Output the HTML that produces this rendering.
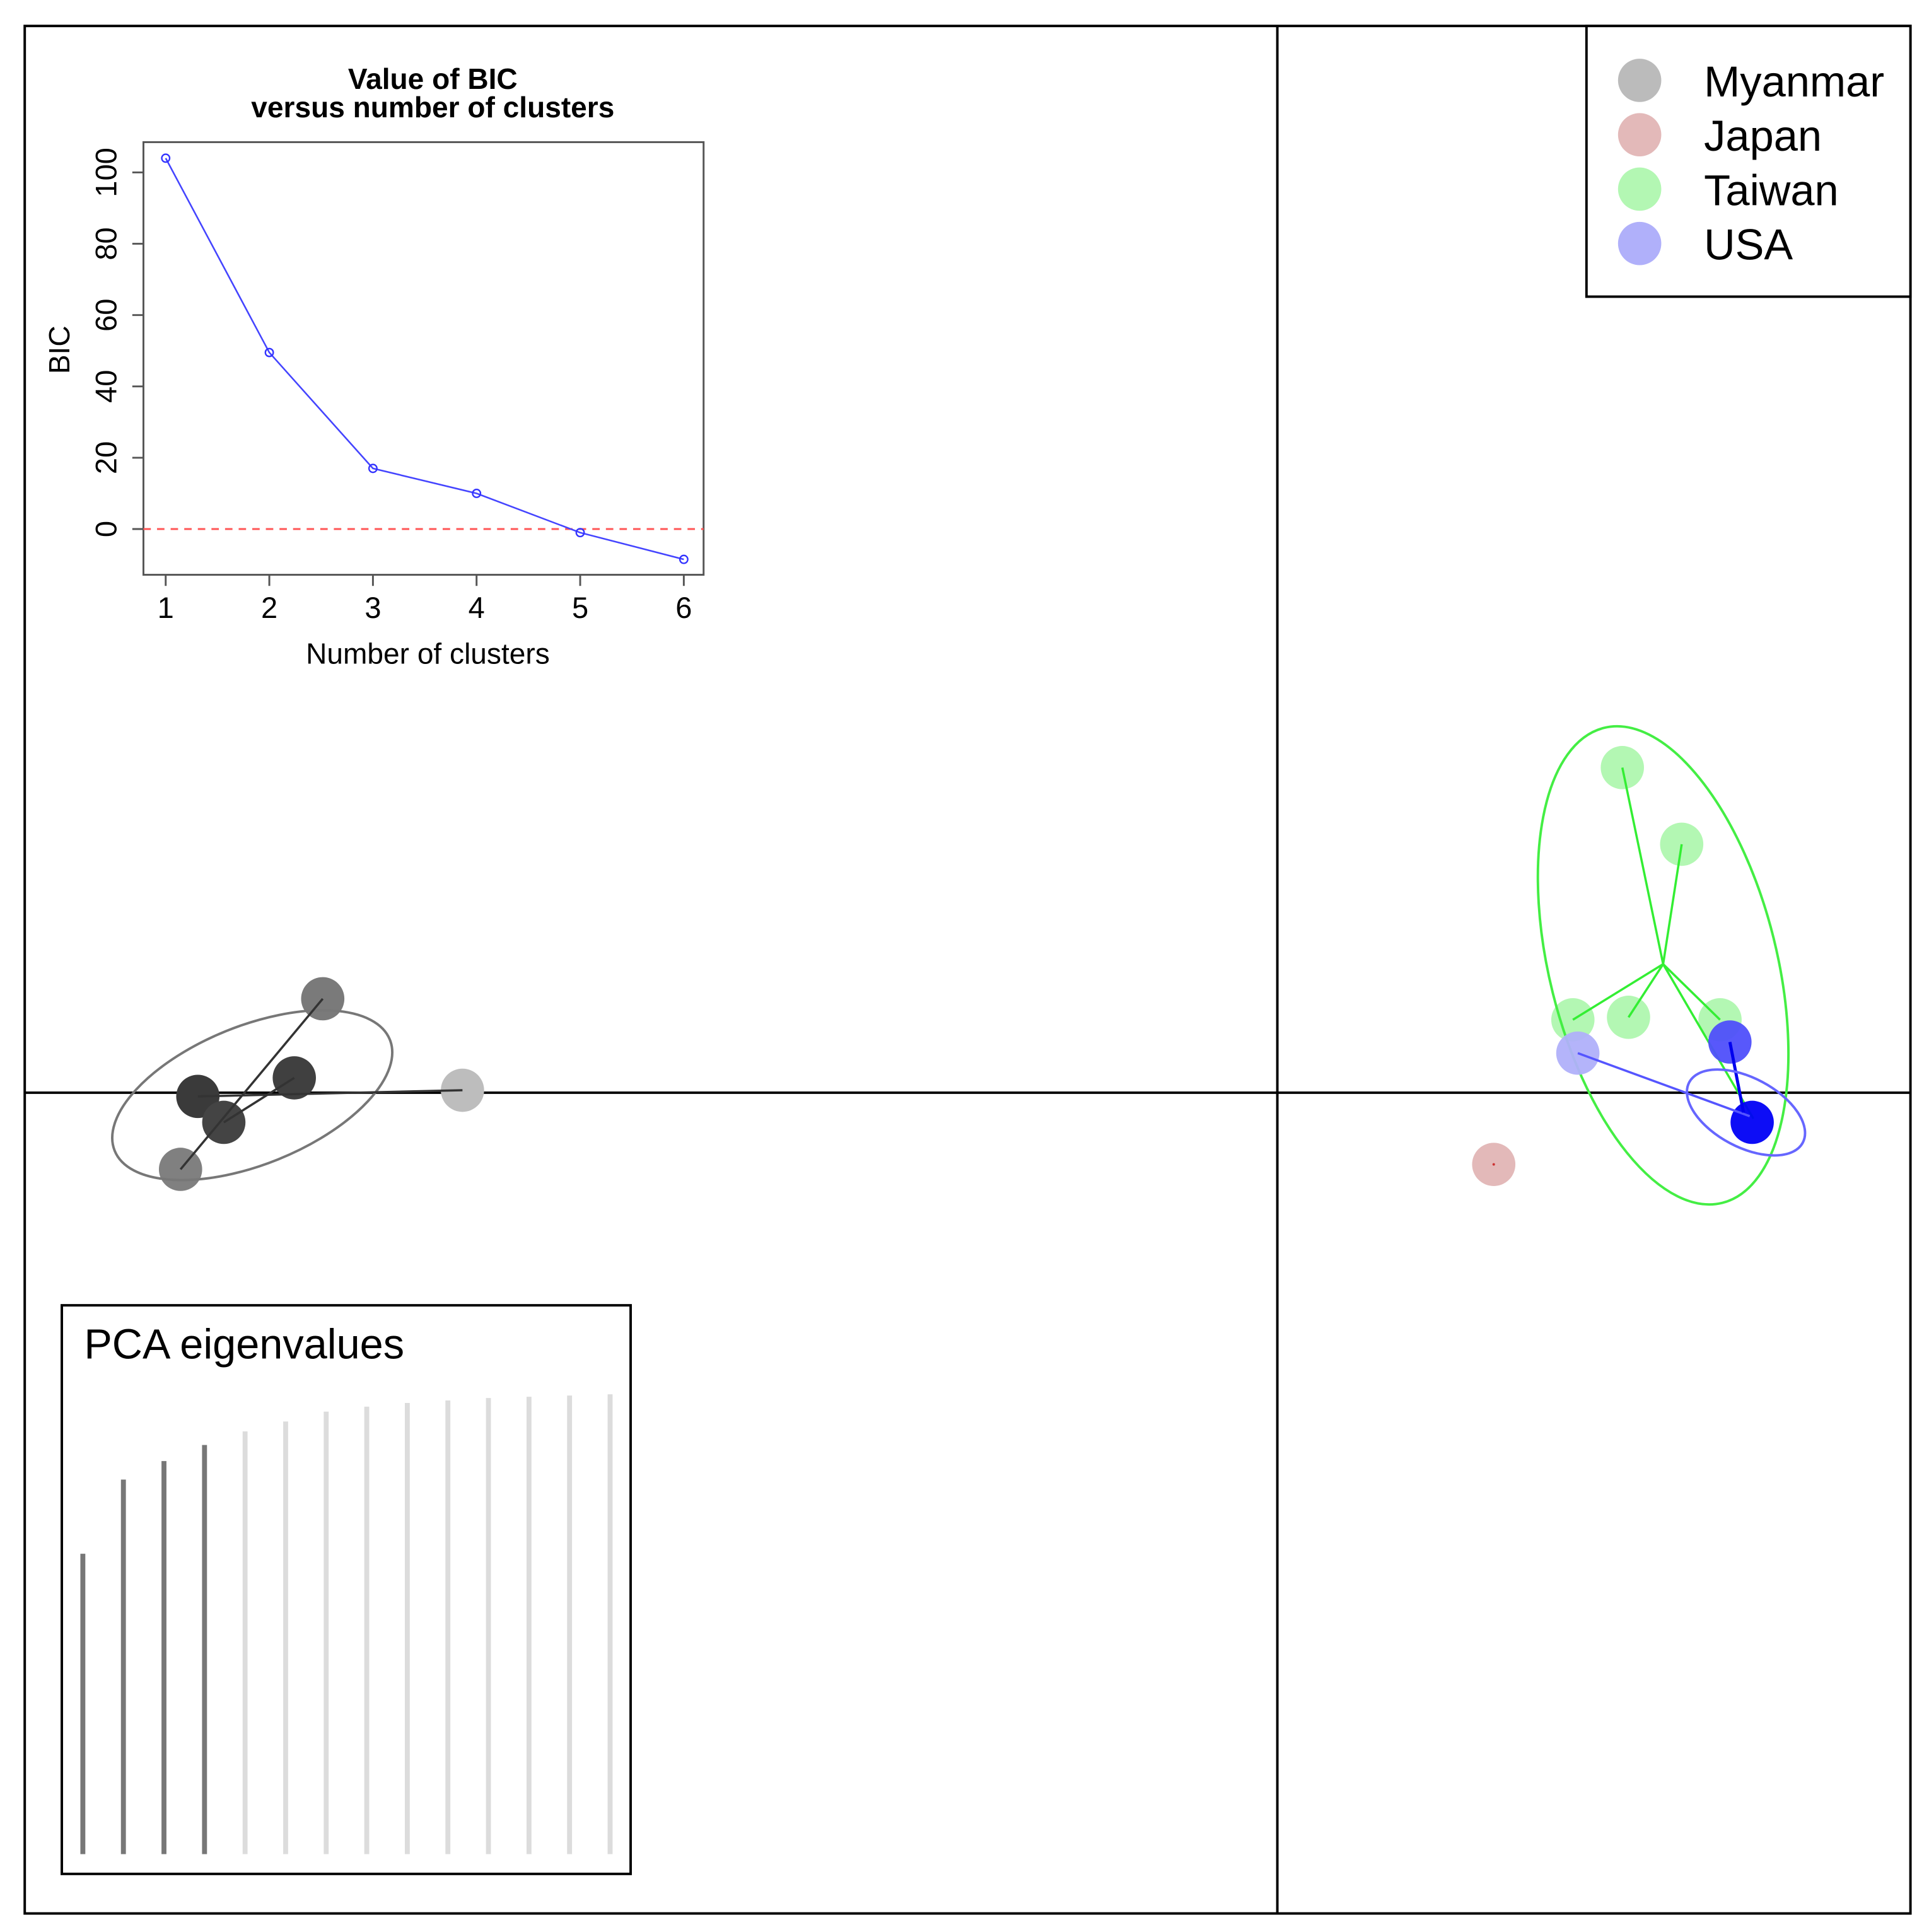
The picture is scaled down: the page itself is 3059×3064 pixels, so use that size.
<!DOCTYPE html>
<html><head><meta charset="utf-8"><style>
html,body{margin:0;padding:0;background:#fff}
svg{display:block;font-family:"Liberation Sans",Arial,sans-serif}
</style></head><body>
<svg id="s" width="3059" height="3064" viewBox="0 0 1560 1563" preserveAspectRatio="none" xmlns="http://www.w3.org/2000/svg">
<rect x="20" y="21" width="1525" height="1527" fill="none" stroke="#000" stroke-width="2"/>
<line x1="1033" y1="21" x2="1033" y2="1548" stroke="#000" stroke-width="2"/>
<line x1="20" y1="884" x2="1545" y2="884" stroke="#000" stroke-width="2"/>
<g id="scatter"></g>
<g id="legend">
<rect x="1283" y="21" width="262" height="219" fill="#fff" stroke="#000" stroke-width="2"/>
</g>
<g id="bic">
<text x="350" y="72" text-anchor="middle" font-size="23.5" font-weight="bold">Value of BIC</text>
<text x="350" y="95" text-anchor="middle" font-size="23.5" font-weight="bold">versus number of clusters</text>
<rect x="116" y="115" width="453" height="350" fill="none" stroke="#555" stroke-width="1.5"/>
<text x="346" y="537" text-anchor="middle" font-size="23.5">Number of clusters</text>
<text transform="translate(56,283) rotate(-90)" text-anchor="middle" font-size="23.5">BIC</text>
</g>
<g id="eig">
<rect x="50" y="1056" width="460" height="460" fill="#fff" stroke="#000" stroke-width="2"/>
<text x="68" y="1099" font-size="34">PCA eigenvalues</text>
</g>
</svg>
<script>
const NS="http://www.w3.org/2000/svg";
// BIC data
const bicK=[1,2,3,4,5,6];
const bicVals=[104,49.5,17,10,-1,-8.5];
const bicYTicks=[0,20,40,60,80,100];
// eigenvalues (relative heights)
const eigVals=[243,303,318,331,342,350,358,362,365,367,369,370,371,372];
const eigRetained=4;
// groups
const groupNames=["Myanmar","Japan","Taiwan","USA"];
const groupColors=["#bbbbbb","#e3b9b9","#b3f7b3","#b0b0fa"];
const myanmarX=[261,160,181,238,146,374];
const myanmarY=[808,887,908,872,946,882];
const myanmarFill=["#7a7a7a","#3a3a3a","#444444","#404040","#808080","#bdbdbd"];
const taiwanX=[1312,1360,1272,1317,1391];
const taiwanY=[621,683,825,823,825];
const usaX=[1276,1399,1417];
const usaY=[852,843,908];
const usaFill=["#b0b0fa","#4f4ffb","#0000f5"];
const japanX=[1208];
const japanY=[942];

function mk(tag,attrs,parent){const e=document.createElementNS(NS,tag);for(const k in attrs)e.setAttribute(k,attrs[k]);parent.appendChild(e);return e;}

// BIC inset
const bic=document.getElementById('bic');
const bx=k=>134+(k-1)*(553-134)/5;
const by=v=>428-v*(428-139.5)/100;
mk('line',{x1:116,y1:by(0),x2:569,y2:by(0),stroke:"#ff5555","stroke-width":1.5,"stroke-dasharray":"6,5"},bic);
bicK.forEach(k=>{
  const t=mk('line',{x1:bx(k),y1:465,x2:bx(k),y2:474,stroke:"#555","stroke-width":1.5},bic);
  
  
  const l=mk('text',{x:bx(k),y:500,"text-anchor":"middle","font-size":24},bic);l.textContent=k;
  
  
});
bicYTicks.forEach(v=>{
  mk('line',{x1:107,y1:by(v),x2:116,y2:by(v),stroke:"#555","stroke-width":1.5},bic);
  const l=mk('text',{transform:`translate(94,${by(v)}) rotate(-90)`,"text-anchor":"middle","font-size":24},bic);l.textContent=v;
  
  
});
const bl=mk('polyline',{points:bicK.map((k,i)=>bx(k)+","+by(bicVals[i])).join(" "),fill:"none",stroke:"#4444ff","stroke-width":1.3},bic);


bicK.forEach((k,i)=>{
  const c=mk('circle',{cx:bx(k),cy:by(bicVals[i]),r:3.2,fill:"none",stroke:"#3333ff","stroke-width":1.2},bic);
  
  
});

// eigenvalues
const eig=document.getElementById('eig');
const ey=v=>1500-v;
eigVals.forEach((v,i)=>{
  const b=mk('line',{x1:67+i*32.8,y1:ey(v),x2:67+i*32.8,y2:1500,stroke:i<eigRetained?"#777":"#dcdcdc","stroke-width":4},eig);
  
  
});

// scatter
const sc=document.getElementById('scatter');
function ell(cx,cy,rx,ry,rot,col,name){const e=mk('ellipse',{cx,cy,rx,ry,transform:`rotate(${rot} ${cx} ${cy})`,fill:"none",stroke:col,"stroke-width":2},sc);
  
  }
function ln(x1,y1,x2,y2,col,w){mk('line',{x1,y1,x2,y2,stroke:col,"stroke-width":w||1.8},sc);}
function pt(x,y,fill,op,name){const c=mk('circle',{cx:x,cy:y,r:17.5,fill,"fill-opacity":op},sc);
  
  }

// Myanmar
myanmarX.forEach((x,i)=>pt(x,myanmarY[i],myanmarFill[i],1,'myanmar-point'));
ell(204,886,120,56,-22,"#777","myanmar-ellipse");
ln(myanmarX[4],myanmarY[4],myanmarX[0],myanmarY[0],"#333");
ln(myanmarX[1],myanmarY[1],myanmarX[5],myanmarY[5],"#333");
ln(myanmarX[2],myanmarY[2],myanmarX[3],myanmarY[3],"#333");
// Japan
japanX.forEach((x,i)=>{pt(x,japanY[i],groupColors[1],1,'japan-point');mk('circle',{cx:x,cy:japanY[i],r:1,fill:"#c33"},sc);});
// Taiwan
taiwanX.forEach((x,i)=>pt(x,taiwanY[i],groupColors[2],1,'taiwan-point'));
const tcx=1345,tcy=780;
taiwanX.forEach((x,i)=>ln(tcx,tcy,x,taiwanY[i],"#33ee33"));
ln(tcx,tcy,1418,905,"#33ee33");
ell(1345,781,92,198,-14,"#44ee44","taiwan-ellipse");
// USA
usaX.forEach((x,i)=>pt(x,usaY[i],usaFill[i],0.95,'usa-point'));
ln(usaX[0],usaY[0],1415,903,"#5555ff");
ln(usaX[1],usaY[1],1410,900,"#0000ee",2.5);
ell(1412,900,52,28,28,"#6666ff","usa-ellipse");

// legend
const lg=document.getElementById('legend');
groupNames.forEach((n,i)=>{
  const c=mk('circle',{cx:1326,cy:65+i*44,r:17.5,fill:groupColors[i]},lg);
  
  
  const t=mk('text',{x:1378,y:78+i*44,"font-size":35},lg);t.textContent=n;
  
  
});
</script>
</body></html>
